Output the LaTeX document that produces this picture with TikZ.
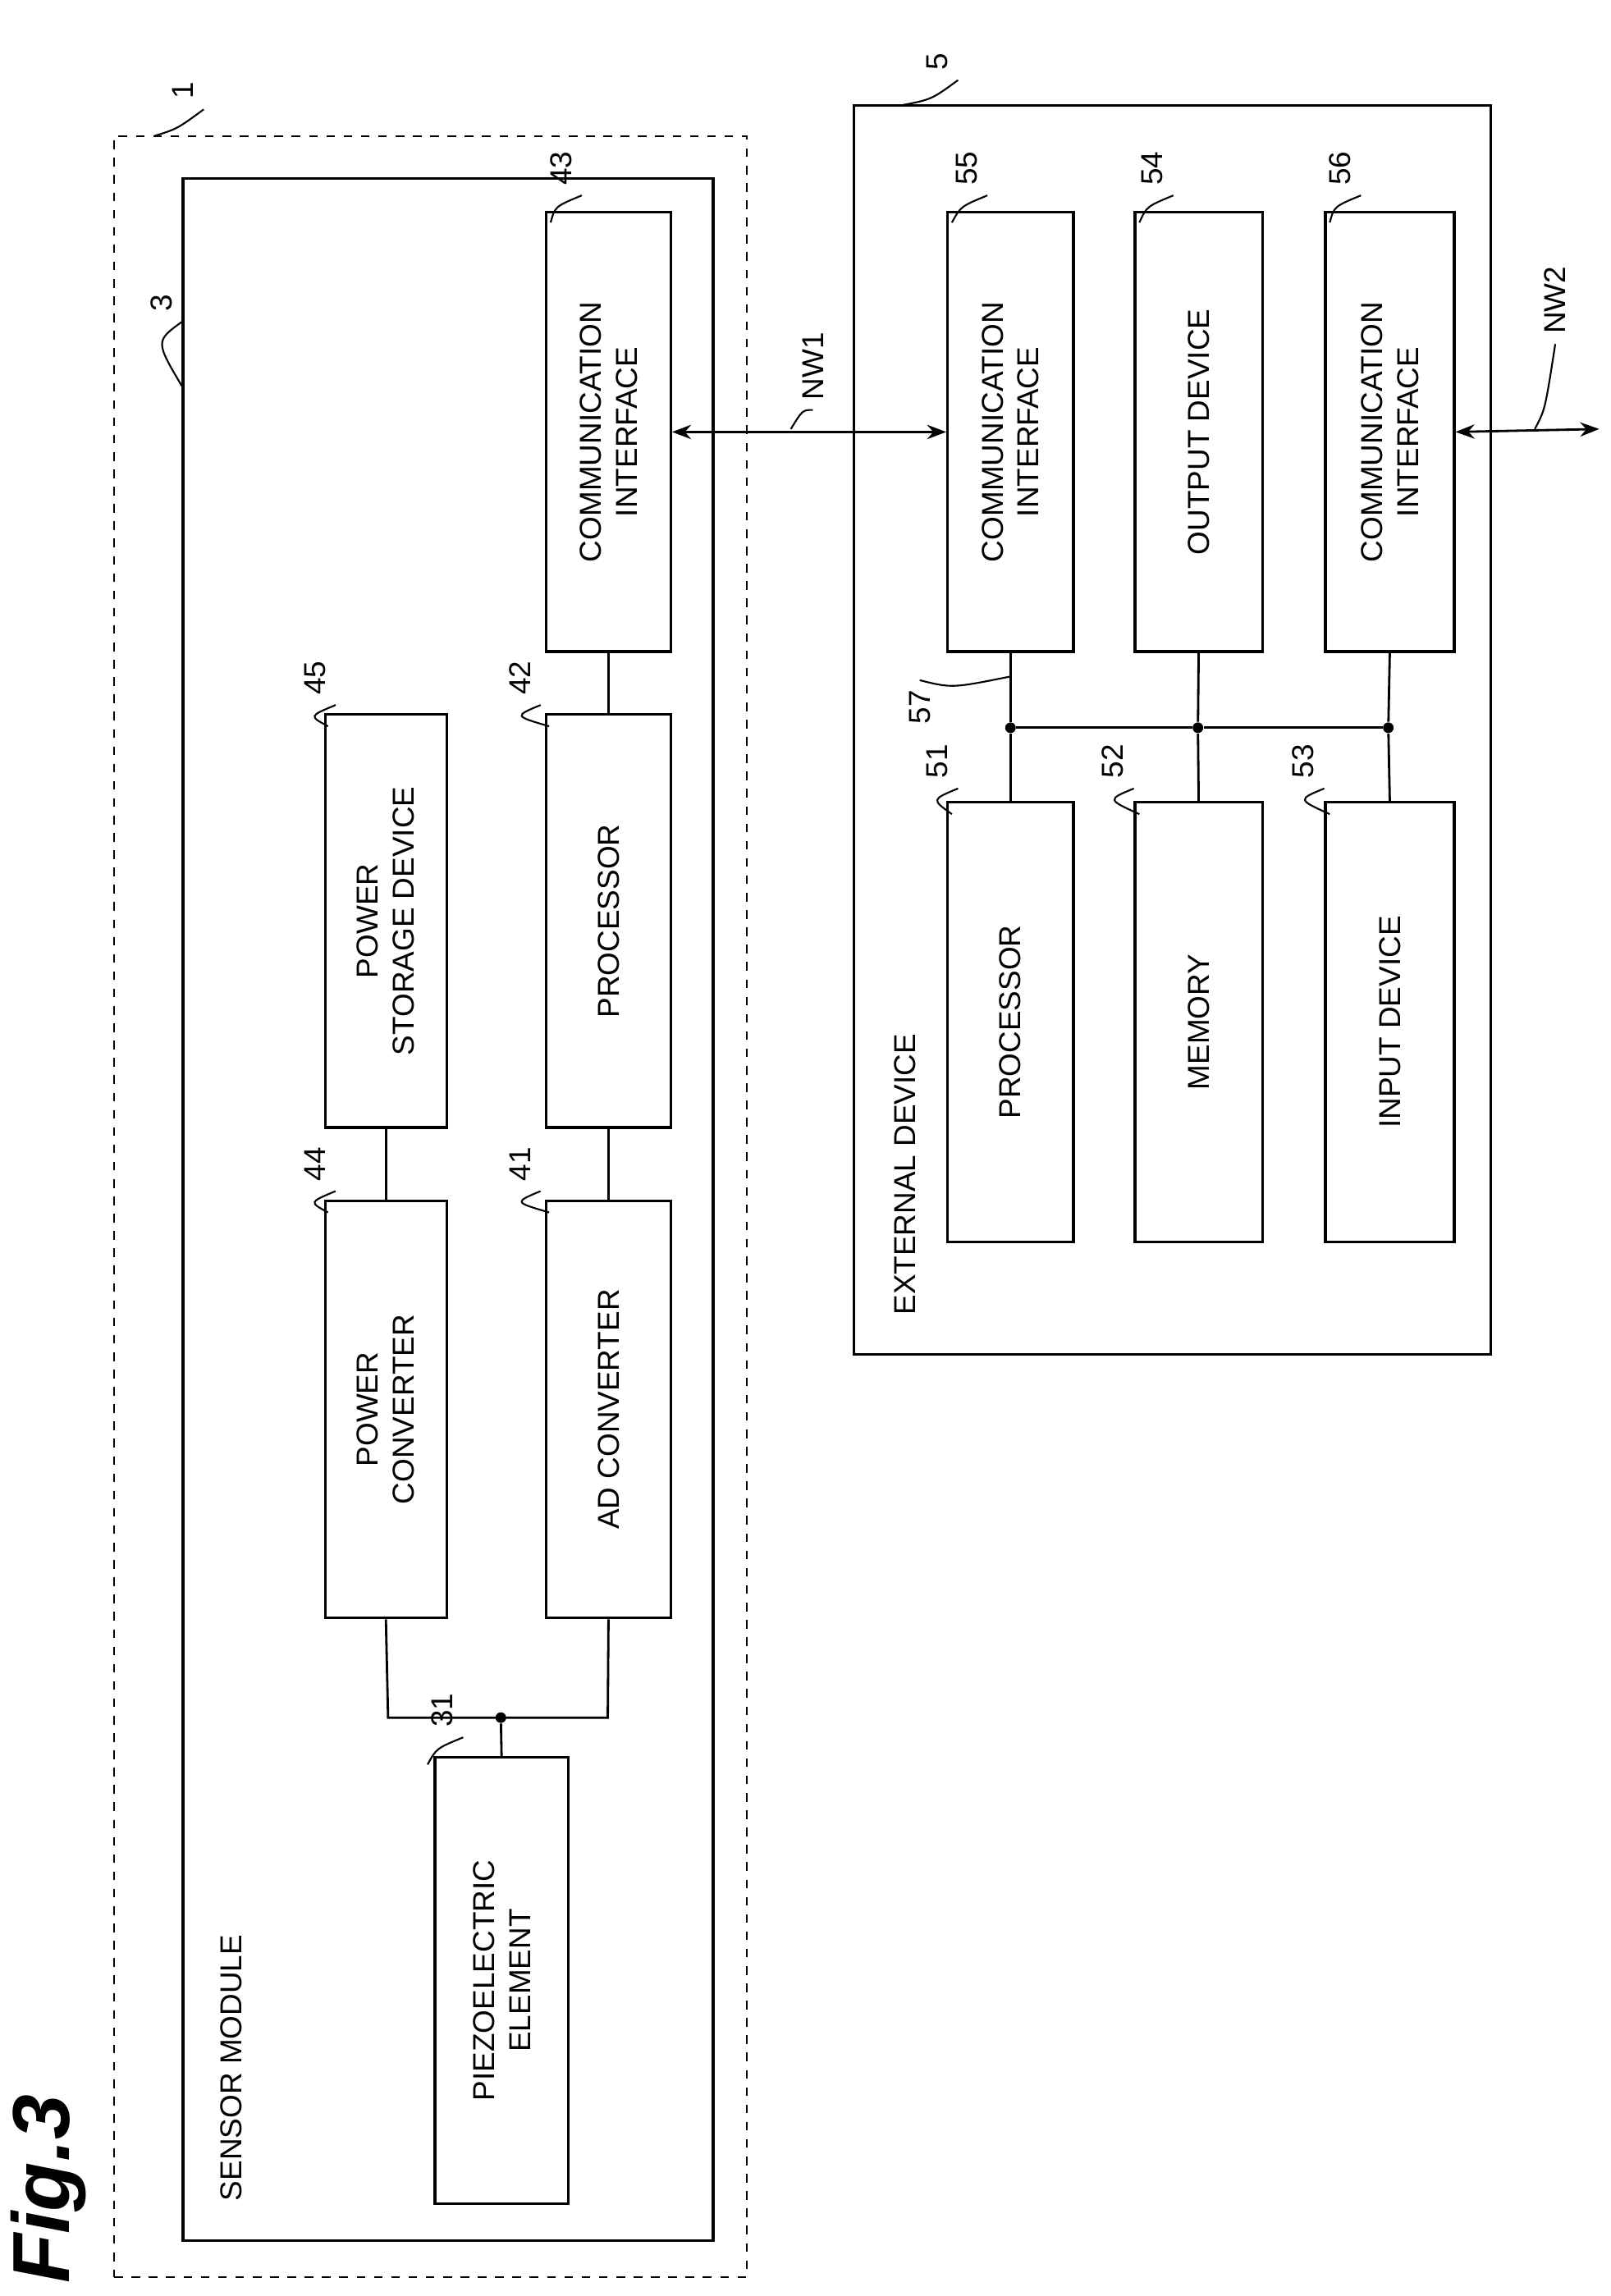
\documentclass[tikz,border=0pt]{standalone}
\usepackage{fontspec}
\setmainfont{Liberation Sans}
\usetikzlibrary{fit,arrows.meta}
\begin{document}
\begin{tikzpicture}[x=0.01784cm,y=-0.01784cm,>=Stealth,
  box/.style={draw,line width=0.9pt,inner sep=0pt},
  txt/.style={rotate=90,align=center,font=\fontsize{10.5}{12.5}\selectfont},
  num/.style={rotate=90,font=\fontsize{10.5}{12.5}\selectfont},
  dot/.style={circle,fill,inner sep=1.3pt}]
\useasboundingbox (0,0) rectangle (1100,1568);
% outer frames
\node[box,dashed,line width=0.6pt,fit={(78,93)(510,1555)}] (mod1) {};
\node[box,fit={(125,122)(487,1530)}] (mod3) {};
\node[box,fit={(583,72)(1018,925)}] (dev5) {};
\node[txt,anchor=west] at (158,1510) {SENSOR MODULE};
\node[txt,anchor=west] at (618,905) {EXTERNAL DEVICE};
% sensor module blocks
\node[box,fit={(297,1200)(388,1505)}] (piezo) {};
\node[txt] at (piezo.center) {PIEZOELECTRIC\\ELEMENT};
\node[box,fit={(222,820)(305,1105)}] (pconv) {};
\node[txt] at (pconv.center) {POWER\\CONVERTER};
\node[box,fit={(373,820)(458,1105)}] (adc) {};
\node[txt] at (adc.center) {AD CONVERTER};
\node[box,fit={(222,488)(305,770)}] (pstore) {};
\node[txt] at (pstore.center) {POWER\\STORAGE DEVICE};
\node[box,fit={(373,488)(458,770)}] (proc42) {};
\node[txt] at (proc42.center) {PROCESSOR};
\node[box,fit={(373,145)(458,445)}] (com43) {};
\node[txt] at (com43.center) {COMMUNICATION\\INTERFACE};
% external device blocks
\node[box,fit={(647,145)(733,445)}] (com55) {};
\node[txt] at (com55.center) {COMMUNICATION\\INTERFACE};
\node[box,fit={(775,145)(862,445)}] (out54) {};
\node[txt] at (out54.center) {OUTPUT DEVICE};
\node[box,fit={(905,145)(993,445)}] (com56) {};
\node[txt] at (com56.center) {COMMUNICATION\\INTERFACE};
\node[box,fit={(647,548)(733,848)}] (proc51) {};
\node[txt] at (proc51.center) {PROCESSOR};
\node[box,fit={(775,548)(862,848)}] (mem52) {};
\node[txt] at (mem52.center) {MEMORY};
\node[box,fit={(905,548)(993,848)}] (in53) {};
\node[txt] at (in53.center) {INPUT DEVICE};
% wiring
\node[dot] (j0) at (342,1173) {};
\coordinate (jl) at (265,1173);
\coordinate (jr) at (415,1173);
\draw[line width=0.8pt] (piezo.north) -- (j0);
\draw[line width=0.8pt] (pconv.south) -- (jl) -- (jr) -- (adc.south);
\draw[line width=0.8pt] (pconv.north) -- (pstore.south);
\draw[line width=0.8pt] (adc.north) -- (proc42.south);
\draw[line width=0.8pt] (proc42.north) -- (com43.south);
\node[dot] (b1) at (690,497) {};
\node[dot] (b2) at (818,497) {};
\node[dot] (b3) at (948,497) {};
\draw[line width=0.8pt] (b1) -- (b2) -- (b3);
\draw[line width=0.8pt] (com55.south) -- (b1) -- (proc51.north);
\draw[line width=0.8pt] (out54.south) -- (b2) -- (mem52.north);
\draw[line width=0.8pt] (com56.south) -- (b3) -- (in53.north);
\draw[<->,line width=0.8pt] (com43.east) -- (com55.west);
\coordinate (nw2) at (1092,293);
\draw[<->,line width=0.8pt] (com56.east) -- (nw2);
% reference numerals
\foreach \n/\x/\y/\tx/\ty in {1/125/62/105/93, 3/110/207/125/265, 31/302/1168/292/1205,
  44/215/795/224/828, 41/355/795/375/828, 45/215/463/224/496, 42/355/463/375/496,
  43/383/115/376/152, 55/660/115/650/152, 54/787/115/778/152, 56/915/115/908/152,
  51/640/520/650/556, 52/760/520/778/556, 53/890/520/908/556, 5/640/42/615/72}
{\node[num] (n\n) at (\x,\y) {\n};
 \draw[line width=0.6pt] (n\n.south west) .. controls (\x-4,\y+26) .. (\tx,\ty);}
\node[num] (nNW1) at (555,250) {NW1};
\draw[line width=0.6pt] (nNW1.west) .. controls (548,280) .. (540,293);
\node[num] (nNW2) at (1062,205) {NW2};
\draw[line width=0.6pt] (nNW2.west) .. controls (1055,280) .. (1048,293);
\node[num] (n57) at (628,483) {57};
\draw[line width=0.6pt] (n57.east) .. controls (650,470) .. (690,462);
\node[rotate=90,font=\fontsize{28}{28}\selectfont\bfseries\itshape] at (33,1495) {Fig.3};
\end{tikzpicture}
\end{document}
